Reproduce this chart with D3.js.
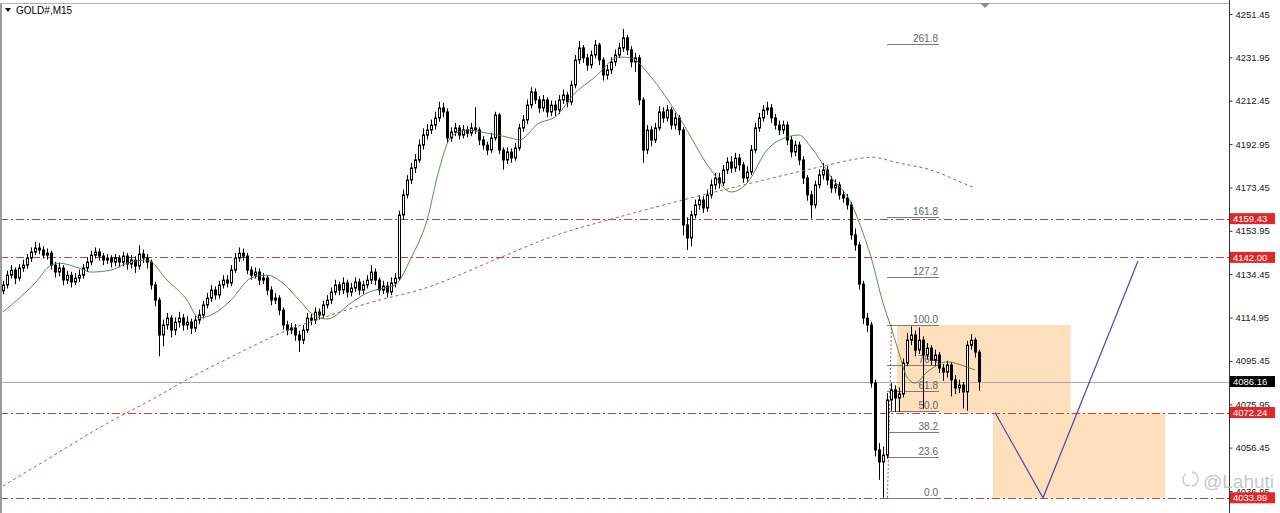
<!DOCTYPE html>
<html><head><meta charset="utf-8">
<script src="https://cdn.jsdelivr.net/npm/d3@7"></script>
<style>body{margin:0;background:#fff;overflow:hidden}svg{display:block}</style>
</head><body><svg id="c" width="1280" height="513"></svg>
<script>
// ---------- DATA ----------
const open=[
4127.0,4129.6,4134.0,4136.3,4132.7,4137.2,4138.5,4141.7,4144.4,4146.2,
4145.3,4143.0,4143.9,4138.5,4135.4,4137.2,4131.8,4134.0,4130.9,4132.7,
4134.0,4137.2,4139.9,4143.0,4144.4,4142.6,4140.8,4141.7,4139.9,4141.7,
4139.9,4142.6,4139.0,4140.8,4138.1,4143.5,4141.7,4139.9,4129.6,4122.8,
4107.1,4111.6,4114.7,4109.3,4112.9,4114.7,4111.6,4112.9,4110.2,4113.8,
4116.1,4120.6,4123.7,4127.3,4125.1,4129.6,4131.8,4130.5,4136.3,4141.7,
4143.9,4142.6,4136.3,4134.0,4135.4,4131.8,4132.7,4127.3,4122.8,4123.7,
4118.3,4111.6,4109.3,4110.2,4107.1,4104.8,4109.3,4114.7,4113.8,4117.4,
4116.1,4120.6,4122.8,4126.4,4129.6,4127.3,4130.5,4126.4,4128.2,4130.9,
4127.3,4129.6,4131.8,4135.4,4131.8,4127.3,4129.1,4126.4,4130.5,4132.7,
4161.1,4170.1,4176.8,4182.2,4185.8,4192.5,4197.0,4199.3,4201.5,4204.7,
4209.2,4207.4,4195.7,4198.4,4200.2,4197.0,4199.3,4197.9,4200.2,4199.3,
4194.8,4192.5,4190.3,4195.7,4206.0,4190.3,4185.8,4189.4,4186.7,4191.2,
4200.2,4203.8,4210.5,4216.4,4212.8,4209.2,4212.8,4207.4,4210.5,4208.3,
4212.8,4215.0,4211.9,4219.5,4230.8,4236.2,4231.7,4228.5,4233.0,4237.5,
4230.8,4224.0,4226.3,4229.9,4233.0,4236.2,4240.7,4235.3,4229.9,4231.7,
4212.8,4190.3,4199.3,4194.8,4200.2,4207.4,4204.7,4208.3,4201.5,4204.7,
4199.3,4156.6,4150.7,4161.1,4165.6,4167.8,4164.2,4170.1,4174.6,4177.7,
4175.5,4181.3,4184.9,4182.2,4186.7,4183.6,4177.7,4180.4,4190.3,4200.2,
4204.7,4208.3,4209.2,4204.7,4201.5,4199.3,4201.5,4194.8,4189.4,4192.5,
4185.8,4177.7,4170.1,4165.6,4174.6,4179.1,4181.3,4176.8,4173.2,4174.6,
4170.1,4168.7,4165.6,4152.1,4147.6,4130.0,4114.7,4111.6,4085.5,4055.4,
4050.0,4053.1,4077.9,4082.4,4078.8,4080.6,4094.5,4104.8,4107.1,4100.3,
4104.8,4098.1,4101.2,4095.8,4098.1,4092.2,4090.4,4093.6,4086.9,4083.3,
4084.6,4081.5,4102.5,4104.8,4099.4];
const high=[
4131.5,4136.0,4138.5,4137.5,4139.0,4141.0,4143.5,4146.5,4149.0,4148.5,
4147.0,4146.0,4145.0,4140.0,4139.5,4138.5,4136.0,4135.5,4135.0,4136.5,
4139.0,4142.0,4145.0,4146.5,4146.0,4144.0,4143.5,4143.0,4143.5,4143.0,
4144.5,4144.0,4143.0,4142.5,4147.5,4145.5,4143.5,4141.0,4131.0,4124.0,
4114.0,4117.0,4116.0,4115.0,4117.5,4116.5,4115.5,4114.5,4116.0,4118.5,
4122.5,4126.0,4129.5,4129.0,4131.5,4134.0,4134.0,4138.5,4144.0,4146.5,
4146.0,4144.0,4138.0,4137.5,4137.0,4135.0,4134.0,4129.0,4126.0,4125.0,
4119.5,4113.5,4112.5,4112.0,4109.0,4111.5,4117.0,4116.5,4119.5,4119.0,
4122.5,4125.0,4128.5,4132.0,4131.0,4133.0,4132.0,4130.5,4133.0,4132.5,
4131.5,4134.0,4138.5,4137.0,4133.0,4131.5,4131.0,4133.0,4135.0,4163.0,
4172.5,4179.0,4184.5,4188.5,4195.0,4200.0,4202.0,4204.0,4207.5,4212.0,
4211.5,4209.0,4200.5,4202.5,4201.5,4201.5,4201.0,4202.5,4209.5,4200.5,
4196.5,4194.0,4198.0,4207.5,4207.0,4191.5,4191.5,4191.0,4193.5,4202.0,
4206.0,4213.0,4218.5,4218.0,4214.5,4215.0,4214.0,4212.5,4212.5,4215.0,
4217.5,4216.5,4221.5,4233.0,4239.3,4237.5,4233.5,4235.0,4239.8,4238.5,
4232.0,4228.5,4232.0,4235.5,4238.5,4244.7,4242.0,4237.0,4234.0,4233.0,
4214.0,4201.5,4201.0,4202.5,4210.0,4209.5,4210.5,4209.5,4207.0,4206.0,
4200.5,4160.0,4163.0,4168.0,4170.0,4169.5,4172.5,4177.0,4180.0,4180.0,
4183.5,4187.0,4187.5,4189.0,4188.5,4185.0,4183.0,4192.5,4202.5,4207.0,
4210.5,4212.0,4211.0,4206.5,4203.5,4203.5,4203.0,4196.5,4194.5,4194.0,
4187.5,4179.0,4172.0,4176.5,4181.5,4184.5,4183.0,4178.5,4177.0,4176.0,
4172.0,4170.5,4167.0,4155.0,4149.0,4131.5,4117.0,4113.0,4087.0,4058.5,
4057.0,4081.0,4085.5,4084.5,4083.5,4096.5,4108.0,4111.0,4109.0,4110.5,
4106.5,4103.5,4102.5,4100.5,4099.5,4094.0,4095.5,4095.0,4089.0,4087.0,
4086.0,4104.5,4107.5,4106.0,4100.5];
const low=[
4125.5,4128.0,4132.5,4130.0,4131.5,4135.5,4137.0,4140.0,4143.0,4143.5,
4141.5,4141.0,4136.5,4133.0,4133.5,4129.5,4130.0,4128.5,4129.5,4131.0,
4132.5,4135.5,4138.5,4141.5,4140.5,4138.5,4139.0,4137.5,4138.0,4137.5,
4138.0,4136.5,4137.0,4135.0,4136.5,4139.5,4137.0,4127.5,4120.0,4097.5,
4102.0,4109.5,4106.0,4107.0,4110.5,4109.0,4109.5,4107.5,4108.5,4112.0,
4114.5,4119.0,4122.0,4123.0,4123.5,4128.0,4128.5,4129.0,4135.0,4140.0,
4140.5,4134.5,4132.0,4132.5,4129.5,4130.0,4125.0,4120.5,4121.0,4116.0,
4109.5,4107.0,4107.5,4104.5,4099.5,4103.0,4108.0,4111.5,4112.0,4114.0,
4114.5,4119.0,4121.0,4125.0,4125.0,4125.5,4124.0,4124.5,4126.5,4125.0,
4125.5,4128.0,4130.0,4129.5,4125.0,4125.5,4124.0,4125.0,4128.5,4131.5,
4159.0,4168.5,4175.0,4180.0,4184.5,4190.5,4195.0,4197.5,4199.5,4203.0,
4205.0,4193.5,4194.0,4196.5,4195.0,4195.5,4196.0,4196.5,4197.5,4192.5,
4190.5,4188.0,4189.0,4194.5,4188.5,4181.5,4184.0,4184.5,4185.5,4190.0,
4198.5,4202.0,4209.0,4211.0,4207.0,4207.5,4205.0,4205.5,4205.5,4206.5,
4211.0,4209.5,4210.5,4218.0,4229.0,4229.5,4226.0,4227.0,4231.5,4228.5,
4221.5,4222.0,4224.5,4228.0,4231.5,4234.5,4233.0,4227.5,4225.5,4210.5,
4184.5,4188.5,4192.0,4193.5,4199.0,4202.5,4203.0,4199.5,4199.5,4197.0,
4152.0,4145.3,4147.0,4159.5,4163.5,4162.0,4162.5,4168.5,4172.5,4173.0,
4174.0,4179.5,4180.0,4180.5,4181.0,4175.5,4176.0,4179.0,4189.0,4198.5,
4203.0,4206.0,4202.5,4199.5,4197.0,4197.5,4192.5,4187.0,4187.5,4183.5,
4175.0,4167.5,4159.5,4164.0,4173.0,4177.0,4174.5,4171.0,4171.0,4168.0,
4166.5,4163.5,4150.0,4145.0,4127.5,4112.0,4108.5,4083.5,4052.5,4042.0,
4034.0,4051.5,4073.0,4072.5,4072.5,4079.0,4093.0,4102.5,4097.5,4098.5,
4074.0,4096.0,4093.5,4093.0,4090.0,4086.5,4088.0,4079.5,4080.5,4081.0,
4074.0,4073.0,4100.5,4097.0,4082.0];
const close=[
4129.6,4134.0,4136.3,4132.7,4137.2,4138.5,4141.7,4144.4,4146.2,4145.3,
4143.0,4143.9,4138.5,4135.4,4137.2,4131.8,4134.0,4130.9,4132.7,4134.0,
4137.2,4139.9,4143.0,4144.4,4142.6,4140.8,4141.7,4139.9,4141.7,4139.9,
4142.6,4139.0,4140.8,4138.1,4143.5,4141.7,4139.9,4129.6,4122.8,4107.1,
4111.6,4114.7,4109.3,4112.9,4114.7,4111.6,4112.9,4110.2,4113.8,4116.1,
4120.6,4123.7,4127.3,4125.1,4129.6,4131.8,4130.5,4136.3,4141.7,4143.9,
4142.6,4136.3,4134.0,4135.4,4131.8,4132.7,4127.3,4122.8,4123.7,4118.3,
4111.6,4109.3,4110.2,4107.1,4104.8,4109.3,4114.7,4113.8,4117.4,4116.1,
4120.6,4122.8,4126.4,4129.6,4127.3,4130.5,4126.4,4128.2,4130.9,4127.3,
4129.6,4131.8,4135.4,4131.8,4127.3,4129.1,4126.4,4130.5,4132.7,4161.1,
4170.1,4176.8,4182.2,4185.8,4192.5,4197.0,4199.3,4201.5,4204.7,4209.2,
4207.4,4195.7,4198.4,4200.2,4197.0,4199.3,4197.9,4200.2,4199.3,4194.8,
4192.5,4190.3,4195.7,4206.0,4190.3,4185.8,4189.4,4186.7,4191.2,4200.2,
4203.8,4210.5,4216.4,4212.8,4209.2,4212.8,4207.4,4210.5,4208.3,4212.8,
4215.0,4211.9,4219.5,4230.8,4236.2,4231.7,4228.5,4233.0,4237.5,4230.8,
4224.0,4226.3,4229.9,4233.0,4236.2,4240.7,4235.3,4229.9,4231.7,4212.8,
4190.3,4199.3,4194.8,4200.2,4207.4,4204.7,4208.3,4201.5,4204.7,4199.3,
4156.6,4150.7,4161.1,4165.6,4167.8,4164.2,4170.1,4174.6,4177.7,4175.5,
4181.3,4184.9,4182.2,4186.7,4183.6,4177.7,4180.4,4190.3,4200.2,4204.7,
4208.3,4209.2,4204.7,4201.5,4199.3,4201.5,4194.8,4189.4,4192.5,4185.8,
4177.7,4170.1,4165.6,4174.6,4179.1,4181.3,4176.8,4173.2,4174.6,4170.1,
4168.7,4165.6,4152.1,4147.6,4130.0,4114.7,4111.6,4085.5,4055.4,4050.0,
4053.1,4077.9,4082.4,4078.8,4080.6,4094.5,4104.8,4107.1,4100.3,4104.8,
4098.1,4101.2,4095.8,4098.1,4092.2,4090.4,4093.6,4086.9,4083.3,4084.6,
4081.5,4102.5,4104.8,4099.4,4086.2];

// green moving average, read at sampled bars
const maFastIdx=[0,8,12,14,19,22,27,31,36,41,46,49,53,57,62,66,70,74,77,81,87,91,95,98,102,106,109,112,116,121,127,129,134,138,143,148,154,157,162,169,177,182,186,191,196,199,202,207,212,215,217,220,222,224,226,228,231,236,241,243];
const maFastVal=[4117.5,4130.4,4138.5,4139.4,4137.2,4135.4,4136.3,4139.4,4140.8,4131.8,4122.8,4114.7,4117.0,4122.8,4132.7,4134.0,4130.4,4122.8,4117.0,4114.3,4121.5,4126.0,4128.2,4129.6,4141.7,4158.8,4181.3,4196.1,4199.3,4197.9,4195.7,4194.8,4202.4,4205.1,4215.9,4223.1,4232.1,4231.7,4223.1,4205.1,4181.3,4171.4,4175.4,4190.3,4196.1,4197.0,4191.6,4178.1,4166.5,4153.0,4142.2,4121.5,4110.7,4099.0,4088.2,4085.5,4090.4,4095.0,4092.7,4091.4];
// red dotted slow moving average, read at sampled bars
const maSlowIdx=[0,12,24,37,49,57,70,82,94,104,124,137,153,170,187,203,215,217,224,232,240,243];
const maSlowVal=[4039.2,4052.2,4065.3,4077.9,4090.0,4097.2,4108.4,4116.1,4122.8,4127.3,4141.7,4151.2,4159.7,4167.8,4175.4,4182.2,4186.7,4187.1,4184.4,4181.3,4175.4,4173.2];

const levels=[4159.43,4142.00,4072.24,4033.89];
const lastPrice=4086.16;
const tickValues=[4251.45,4231.95,4212.45,4192.95,4173.45,4153.95,4134.45,4114.95,4095.45,4075.95,4056.45,4036.95];
const fibLevels=[0,23.6,38.2,50,61.8,76.4,100,127.2,161.8,261.8];
const fibBase=4033.89, fibTop=4111.8, fibIdx=[221,234];
const boxIdx0=[223.5,247.5], boxIdx1=[266.9,290.5], boxTop=[4111.6,4072.24], boxBot=[4072.24,4033.89];
const pathIdx=[248,260,283.75], pathVal=[4072.24,4033.89,4140.4];
const title="GOLD#,M15", watermark="@Lahuti";

// ---------- DRAWING ----------
const W=1280,H=513, plotR=1229;
const svg=d3.select("#c");
const x=d3.scaleLinear().domain([0,306.5]).range([3,plotR]);
const y=d3.scaleLinear().domain([4033.89,4251.45]).range([497.8,14]);
const font="'Liberation Sans', Arial, sans-serif";

svg.append("defs").append("clipPath").attr("id","pc").append("rect")
  .attr("x",2).attr("y",4).attr("width",plotR-2).attr("height",H-4);
const g=svg.append("g").attr("clip-path","url(#pc)");

// boxes
boxIdx0.forEach((b,k)=>{
  g.append("rect").attr("x",x(b)).attr("y",y(boxTop[k]))
   .attr("width",x(boxIdx1[k])-x(b)).attr("height",y(boxBot[k])-y(boxTop[k]))
   .attr("fill","#fddfbc");
});

// horizontal levels
levels.forEach(v=>{
  const yy=Math.round(y(v))+0.5;
  g.append("line").attr("x1",0).attr("x2",plotR).attr("y1",yy).attr("y2",yy)
   .attr("stroke","#b94545").attr("stroke-width",1).attr("stroke-dasharray","8,3,2,3");
});
// current price line
{const yy=Math.round(y(lastPrice))+0.5;
 g.append("line").attr("x1",0).attr("x2",plotR).attr("y1",yy).attr("y2",yy).attr("stroke","#a9a9a9");}

// fibonacci
const fibPrice=p=>fibBase+(fibTop-fibBase)*p/100;
fibLevels.forEach(p=>{
  const yy=Math.round(y(fibPrice(p)))+0.5;
  g.append("line").attr("x1",x(fibIdx[0])).attr("x2",x(fibIdx[1])).attr("y1",yy).attr("y2",yy)
   .attr("stroke","#7a7a7a");
  g.append("text").attr("x",x(fibIdx[1])-1).attr("y",yy-3).attr("text-anchor","end")
   .attr("font-family",font).attr("font-size",10).attr("fill","#5c6670").text(p.toFixed(1));
});
g.append("line").attr("x1",x(fibIdx[0])+0.5).attr("x2",x(fibIdx[0]+1)+0.5)
 .attr("y1",y(fibBase)).attr("y2",y(fibTop)).attr("stroke","#b05050").attr("stroke-dasharray","2,2");

// candles
const cg=g.append("g");
close.forEach((c,i)=>{
  const xi=Math.round(x(i));
  cg.append("line").attr("x1",xi+0.5).attr("x2",xi+0.5).attr("y1",y(high[i])).attr("y2",y(low[i]))
    .attr("stroke","#000");
  const o=open[i], top=y(Math.max(o,c)), bot=y(Math.min(o,c));
  if(c>=o){
    cg.append("rect").attr("x",xi-0.5).attr("y",top).attr("width",2).attr("height",Math.max(1,bot-top))
      .attr("fill","#fff").attr("stroke","#000");
  } else {
    cg.append("rect").attr("x",xi-1).attr("y",top-0.5).attr("width",3).attr("height",Math.max(1,bot-top+1))
      .attr("fill","#000");
  }
});

// moving averages
const lineGen=d3.line().x(d=>x(d[0])).y(d=>y(d[1])).curve(d3.curveMonotoneX);
g.append("path").attr("d",lineGen(maSlowIdx.map((v,k)=>[v,maSlowVal[k]])))
 .attr("fill","none").attr("stroke","#c0504d").attr("stroke-width",1).attr("stroke-dasharray","3,3");
g.append("path").attr("d",lineGen(maFastIdx.map((v,k)=>[v,maFastVal[k]])))
 .attr("fill","none").attr("stroke","#3d7a3d").attr("stroke-width",1).attr("opacity",0.85);

// projected path
g.append("path").attr("d",d3.line().x(d=>x(d[0])).y(d=>y(d[1]))(pathIdx.map((v,k)=>[v,pathVal[k]])))
 .attr("fill","none").attr("stroke","#4b4bb0").attr("stroke-width",1.2);

// frame
svg.append("line").attr("x1",1).attr("x2",1).attr("y1",3).attr("y2",H).attr("stroke","#9a9a9a").attr("stroke-width",2);
svg.append("line").attr("x1",0).attr("x2",plotR).attr("y1",3.5).attr("y2",3.5).attr("stroke","#b0b0b0");
svg.append("path").attr("d","M980,3 L990,3 L985,8 Z").attr("fill","#8a8a8a");

// axis
const ax=svg.append("g").attr("transform",`translate(${plotR+0.5},0)`)
  .call(d3.axisRight(y).tickValues(tickValues).tickSize(3).tickSizeOuter(0).tickFormat(d3.format(".2f")));
ax.select(".domain").attr("stroke","#333").attr("d",`M0,0V${H}`);
ax.selectAll(".tick line").attr("stroke","#333");
ax.selectAll(".tick text").attr("font-family",font).attr("font-size",9.5).attr("fill","#222").attr("x",6);

// price labels
const tags=levels.map(v=>({v,fill:"#e0282b"})).concat([{v:lastPrice,fill:"#000"}]);
tags.forEach(t=>{
  const yy=y(t.v);
  svg.append("rect").attr("x",plotR+1).attr("y",yy-5.5).attr("width",45).attr("height",11).attr("fill",t.fill);
  svg.append("text").attr("x",plotR+4).attr("y",yy+3.5).attr("font-family",font).attr("font-size",9.5)
   .attr("fill","#fff").text(t.v.toFixed(2));
});

// title
svg.append("path").attr("d","M5,8 L11,8 L8,12 Z").attr("fill","#000");
svg.append("text").attr("x",16).attr("y",14).attr("font-family",font).attr("font-size",10).attr("fill","#000").text(title);

// watermark
const wm=svg.append("g").attr("opacity",0.85);
wm.append("path").attr("d","M1186,474 a5,6 0 1,0 4,11 M1192,472 a6,7 0 0,1 0,14")
  .attr("fill","none").attr("stroke","#bdbdbd").attr("stroke-width",1.3);
wm.append("text").attr("x",1203).attr("y",488).attr("font-family",font).attr("font-size",19)
 .attr("fill","#bdbdbd").text(watermark);
</script></body></html>
